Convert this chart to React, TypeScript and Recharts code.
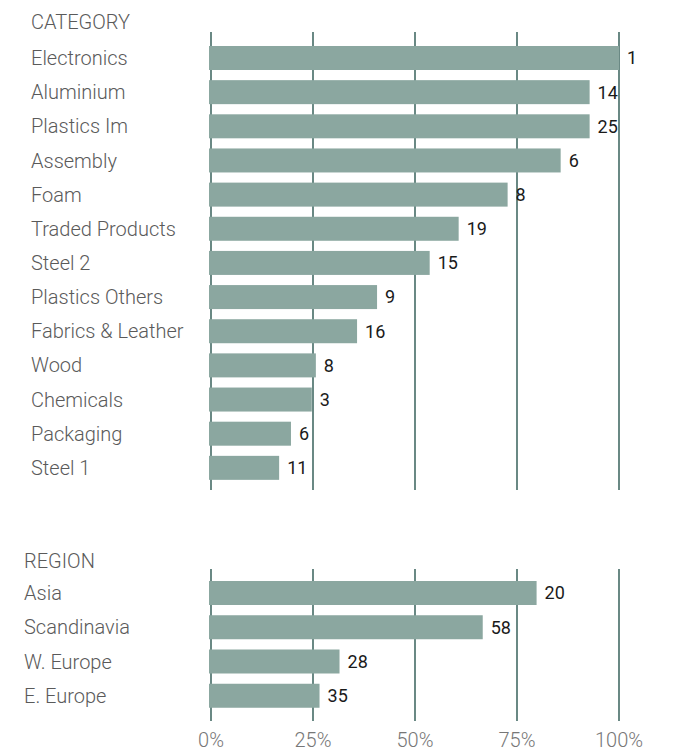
import { BarChart, Bar, XAxis, YAxis, CartesianGrid, LabelList } from 'recharts'

const categories = [
  'Electronics',
  'Aluminium',
  'Plastics Im',
  'Assembly',
  'Foam',
  'Traded Products',
  'Steel 2',
  'Plastics Others',
  'Fabrics & Leather',
  'Wood',
  'Chemicals',
  'Packaging',
  'Steel 1',
]
const categoryShare = [100, 92.8, 92.8, 85.7, 72.7, 60.7, 53.6, 40.7, 35.8, 25.7, 24.7, 19.6, 16.7]
const categoryCount = [1, 14, 25, 6, 8, 19, 15, 9, 16, 8, 3, 6, 11]

const regions = ['Asia', 'Scandinavia', 'W. Europe', 'E. Europe']
const regionShare = [79.8, 66.6, 31.5, 26.6]
const regionCount = [20, 58, 28, 35]

const xTicks = [0, 25, 50, 75, 100]

const categoryData = categories.map((name, i) => ({ name, share: categoryShare[i], count: categoryCount[i] }))
const regionData = regions.map((name, i) => ({ name, share: regionShare[i], count: regionCount[i] }))

const FONT = 'Roboto, "Noto Sans", sans-serif'
const BAR = '#8ba7a0'
const GRID = '#2a5650'
const LABEL = '#5a5a5a'

// bars begin a couple of pixels left of the 0% line
const BarShape = (props: any) => {
  const { x, y, width, height } = props
  return <rect x={x - 2} y={y} width={width + 2} height={height} fill={BAR} />
}

const makeTick = (labelX: number) => (props: any) => {
  const { y, payload } = props
  return (
    <text x={labelX} y={y} dy="0.35em" textAnchor="start" fill={LABEL} fontSize={20} fontWeight={300} fontFamily={FONT}>
      {payload.value}
    </text>
  )
}

const PctTick = (props: any) => {
  const { x, y, payload } = props
  return (
    <text x={x} y={y} dy="0.71em" textAnchor="middle" fill="#777" fontSize={20} fontWeight={300} fontFamily={FONT}>
      {payload.value}%
    </text>
  )
}

const NoTick = () => <g />

function Section({ data, width, height, top, bottom, labelX, showAxis, padTop, padBottom }: any) {
  return (
    <BarChart
      width={width}
      height={height}
      data={data}
      layout="vertical"
      margin={{ top, right: 58, bottom, left: 0 }}
      barCategoryGap={10}
    >
      <CartesianGrid horizontal={false} stroke={GRID} strokeWidth={1.4} strokeOpacity={1} />
      <XAxis
        type="number"
        domain={[0, 100]}
        ticks={xTicks}
        interval={0}
        axisLine={false}
        tickLine={false}
        tickSize={0}
        tickMargin={12}
        height={showAxis ? 31 : 0}
        tick={showAxis ? <PctTick /> : <NoTick />}
      />
      <YAxis
        type="category"
        dataKey="name"
        width={211}
        axisLine={false}
        tickLine={false}
        interval={0}
        padding={{ top: padTop, bottom: padBottom }}
        tick={makeTick(labelX)}
      />
      <Bar dataKey="share" barSize={24} shape={<BarShape />} isAnimationActive={false}>
        <LabelList dataKey="count" position="right" offset={8} fill="#1a1a1a" fontSize={18} fontFamily={FONT} />
      </Bar>
    </BarChart>
  )
}

export default function App() {
  return (
    <div style={{ position: 'relative', width: 677, height: 752, overflow: 'hidden', background: '#fff' }}>
      <style>{'body{margin:0;overflow:hidden}'}</style>
      <div style={{ position: 'absolute', left: 31, top: 11, fontFamily: FONT, fontSize: 20, fontWeight: 300, color: LABEL, lineHeight: '22px' }}>
        CATEGORY
      </div>
      <div style={{ position: 'absolute', left: 0, top: 0 }}>
        <Section
          data={categoryData}
          width={677}
          height={495}
          top={32}
          bottom={5}
          labelX={31}
          showAxis={false}
          padTop={9}
          padBottom={5}
        />
      </div>
      <div style={{ position: 'absolute', left: 24, top: 550, fontFamily: FONT, fontSize: 20, fontWeight: 300, color: LABEL, lineHeight: '22px' }}>
        REGION
      </div>
      <div style={{ position: 'absolute', left: 0, top: 540 }}>
        <Section
          data={regionData}
          width={677}
          height={212}
          top={29}
          bottom={0}
          labelX={24}
          showAxis={true}
          padTop={7}
          padBottom={8}
        />
      </div>
    </div>
  )
}
